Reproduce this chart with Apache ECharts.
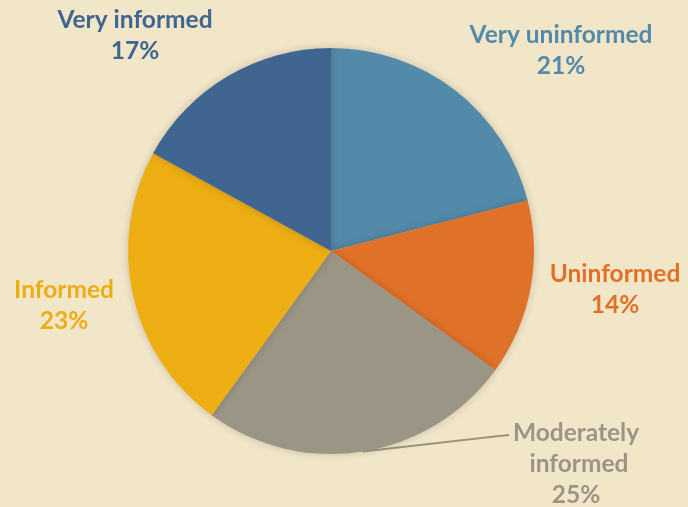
<!DOCTYPE html>
<html>
<head>
<meta charset="utf-8">
<script src="https://cdn.jsdelivr.net/npm/echarts@6/dist/echarts.min.js"></script>
<style>
  html, body { margin: 0; padding: 0; background: #f2e6c9; }
  #chart { width: 688px; height: 507px; }
</style>
</head>
<body>
<div id="chart"></div>
<script>
  // categories clockwise from 12 o'clock
  var categories = ['Very uninformed', 'Uninformed', 'Moderately informed', 'Informed', 'Very informed'];
  var shares = [21, 14, 25, 23, 17];
  var colors = ['#548aa9', '#e07128', '#9b9585', '#edae14', '#3f6590'];

  // where each label block sits (center)
  var labelSpots = [
    [561, 51],
    [615, 290],
    [576, 464],
    [64, 306],
    [135, 36]
  ];

  var chart = echarts.init(document.getElementById('chart'));
  var data = categories.map(function (name, i) {
    var item = {
      name: name,
      value: shares[i],
      itemStyle: { color: colors[i] },
      label: { color: colors[i] },
      labelLine: { show: false }
    };
    if (name === 'Moderately informed') {
      item.label.width = 130;
      item.label.overflow = 'break';
      item.labelLine = { show: true, lineStyle: { color: '#9b9585', width: 2 } };
    }
    return item;
  });

  var option = {
    backgroundColor: '#f2e6c9',
    animation: false,
    series: [
      {
        type: 'pie',
        center: [331, 251],
        radius: 203,
        startAngle: 90,
        clockwise: true,
        avoidLabelOverlap: false,
        data: data,
        itemStyle: {
          shadowBlur: 8,
          shadowColor: 'rgba(0,0,0,0.18)'
        },
        label: {
          show: true,
          position: 'outside',
          formatter: '{b}\n{c}%',
          fontFamily: 'Lato',
          fontWeight: 'bold',
          fontSize: 24.5,
          lineHeight: 31,
          align: 'center',
          overflow: 'none'
        },
        labelLine: {
          length: 20,
          length2: 20,
          smooth: false
        },
        labelLayout: function (params) {
          var p = labelSpots[params.dataIndex];
          var out = {
            x: p[0],
            y: p[1],
            align: 'center',
            verticalAlign: 'middle'
          };
          if (params.labelLinePoints) {
            var start = params.labelLinePoints[0];
            out.labelLinePoints = [start, [p[0] - 77, p[1] - 28], [p[0] - 67, p[1] - 29]];
          }
          return out;
        }
      }
    ]
  };
  chart.setOption(option);
</script>
</body>
</html>
